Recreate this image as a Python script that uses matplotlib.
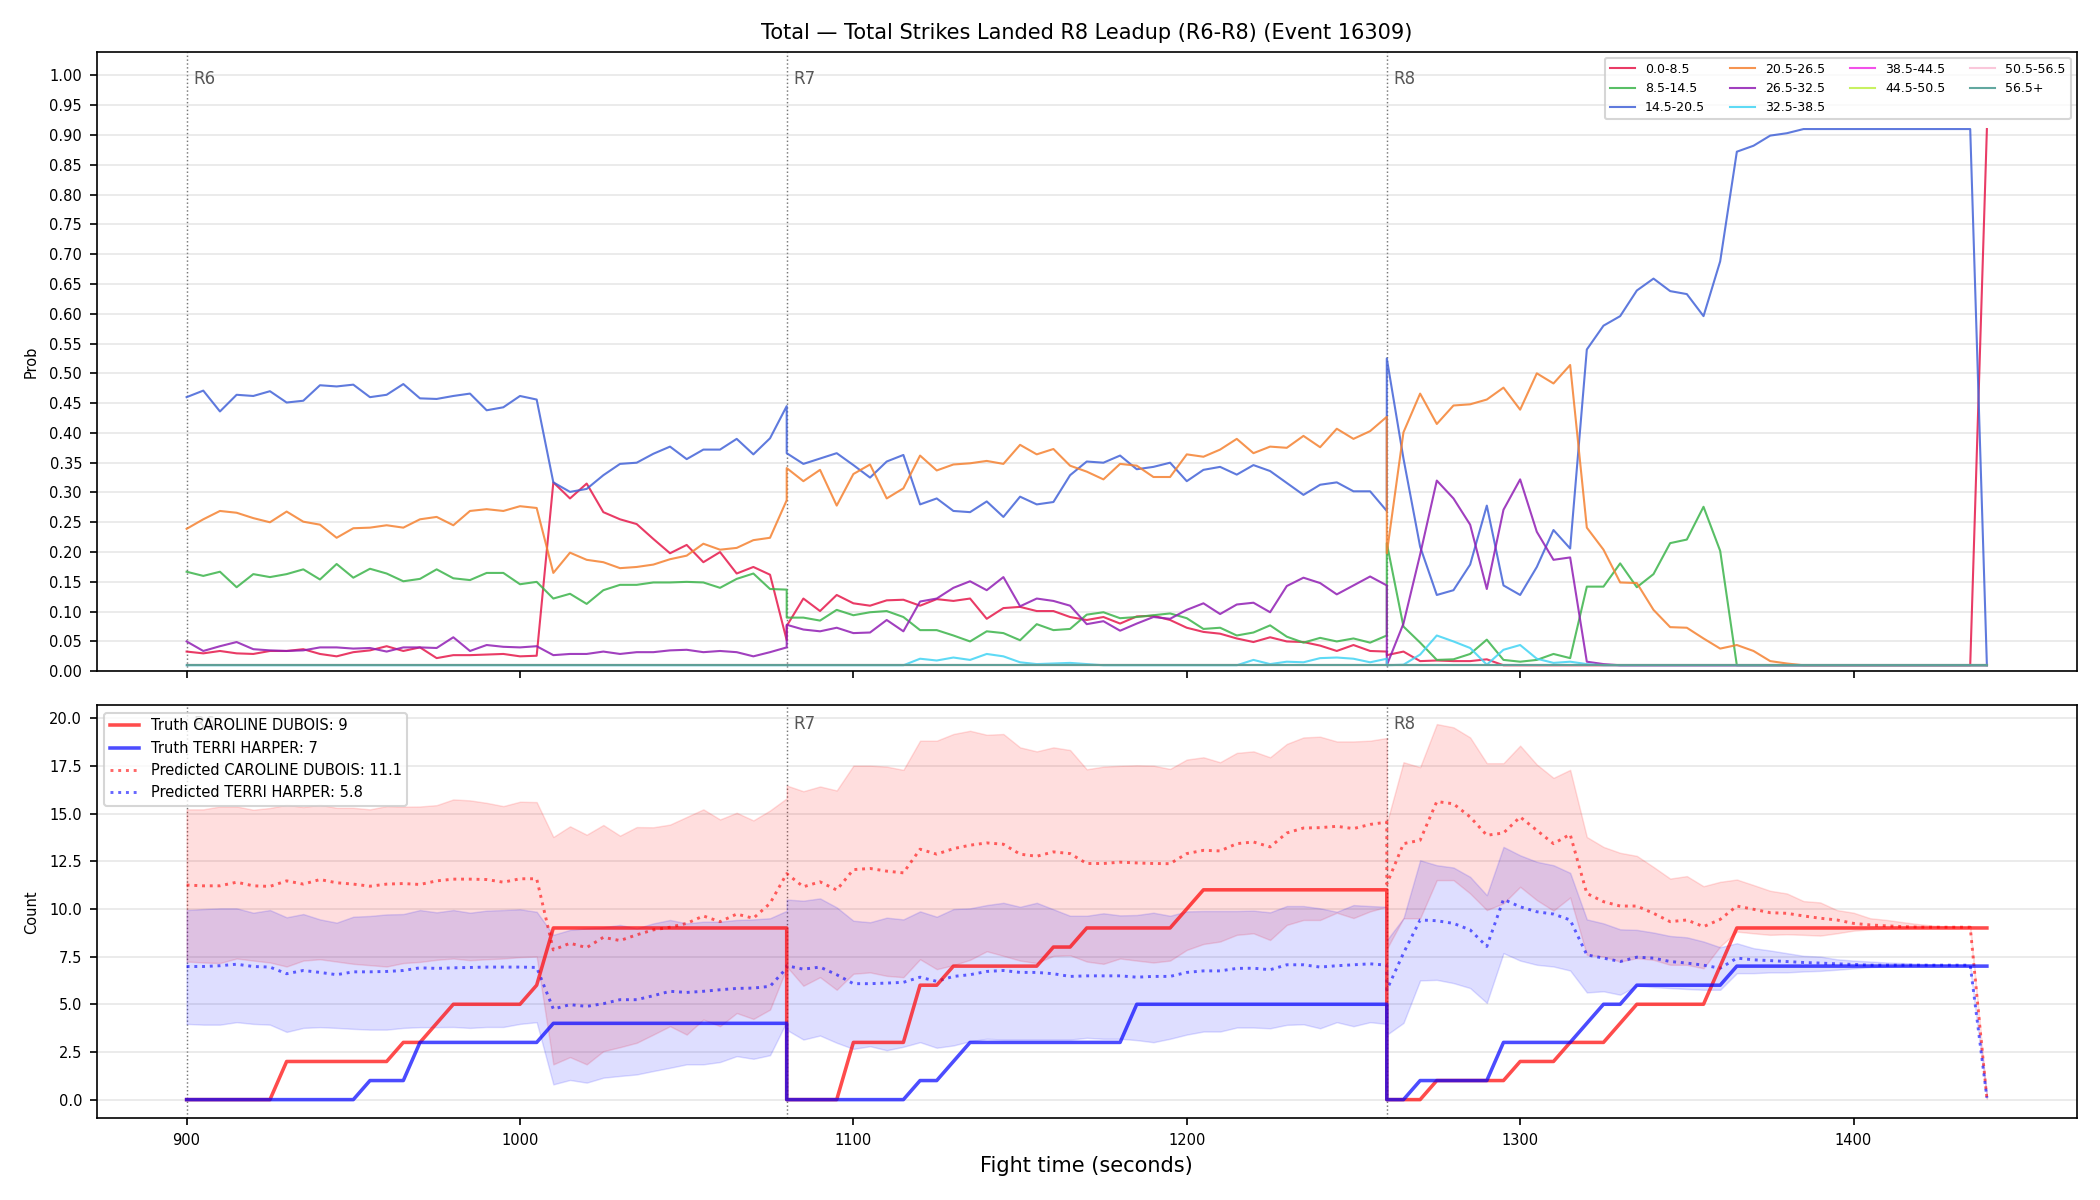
import numpy as np
import matplotlib
matplotlib.use('Agg')
import matplotlib.pyplot as plt
import matplotlib.transforms as mtransforms

# sample times, one round each (the round boundary is sampled twice)
T_R6 = np.arange(900, 1081, 5)
T_R7 = np.arange(1080, 1261, 5)
T_R8 = np.arange(1260, 1441, 5)
TIME = np.concatenate([T_R6, T_R7, T_R8])

ROUND_STARTS = [900, 1080, 1260]
ROUND_NAMES = ['R6', 'R7', 'R8']

# --- top panel: bin probabilities ---
BINS = ['0.0-8.5', '8.5-14.5', '14.5-20.5', '20.5-26.5', '26.5-32.5',
        '32.5-38.5', '38.5-44.5', '44.5-50.5', '50.5-56.5', '56.5+']
BIN_COLORS = ['#e6194b', '#3cb44b', '#4363d8', '#f58231', '#911eb4',
              '#42d4f4', '#f032e6', '#bfef45', '#fabed4', '#469990']

p_0_8 = ([0.033, 0.030, 0.034, 0.030, 0.029, 0.034, 0.034, 0.037, 0.029, 0.025, 0.032, 0.035, 0.042,
          0.034, 0.040, 0.022, 0.027, 0.027, 0.028, 0.029, 0.025, 0.026, 0.317, 0.290, 0.315, 0.267,
          0.255, 0.247, 0.222, 0.198, 0.212, 0.183, 0.200, 0.164, 0.175, 0.162, 0.052]
         + [0.076, 0.122, 0.101, 0.128, 0.114, 0.110, 0.119, 0.120, 0.110, 0.121, 0.118, 0.122, 0.088,
            0.106, 0.108, 0.101, 0.101, 0.091, 0.086, 0.091, 0.080, 0.092, 0.093, 0.086, 0.073, 0.066,
            0.063, 0.055, 0.049, 0.057, 0.050, 0.049, 0.043, 0.034, 0.044, 0.034, 0.033]
         + [0.027, 0.033, 0.017, 0.018, 0.017, 0.017, 0.020] + [0.01] * 29 + [0.91])
p_8_14 = ([0.167, 0.160, 0.167, 0.141, 0.163, 0.158, 0.163, 0.171, 0.154, 0.180, 0.157, 0.172, 0.164,
           0.151, 0.155, 0.171, 0.156, 0.153, 0.165, 0.165, 0.146, 0.150, 0.122, 0.130, 0.113, 0.136,
           0.145, 0.145, 0.149, 0.149, 0.150, 0.149, 0.140, 0.155, 0.164, 0.138, 0.137]
          + [0.090, 0.090, 0.085, 0.103, 0.094, 0.099, 0.101, 0.091, 0.069, 0.069, 0.060, 0.050, 0.067,
             0.064, 0.052, 0.079, 0.069, 0.071, 0.095, 0.099, 0.089, 0.091, 0.094, 0.097, 0.089, 0.071,
             0.073, 0.060, 0.065, 0.077, 0.058, 0.048, 0.056, 0.050, 0.055, 0.048, 0.060]
          + [0.215, 0.075, 0.048, 0.019, 0.020, 0.029, 0.053, 0.019, 0.016, 0.019, 0.029, 0.022, 0.142,
             0.142, 0.181, 0.141, 0.163, 0.215, 0.221, 0.276, 0.202] + [0.01] * 16)
p_14_20 = ([0.460, 0.471, 0.436, 0.464, 0.462, 0.470, 0.451, 0.454, 0.480, 0.478, 0.481, 0.460, 0.464,
            0.482, 0.458, 0.457, 0.462, 0.466, 0.438, 0.443, 0.462, 0.456, 0.317, 0.301, 0.306, 0.329,
            0.348, 0.350, 0.365, 0.377, 0.356, 0.372, 0.372, 0.390, 0.364, 0.391, 0.445]
           + [0.366, 0.348, 0.357, 0.366, 0.346, 0.325, 0.352, 0.363, 0.280, 0.290, 0.269, 0.267, 0.285,
              0.259, 0.293, 0.280, 0.284, 0.329, 0.352, 0.350, 0.362, 0.339, 0.343, 0.350, 0.319, 0.338,
              0.343, 0.330, 0.346, 0.336, 0.316, 0.296, 0.313, 0.317, 0.302, 0.302, 0.269]
           + [0.525, 0.357, 0.209, 0.128, 0.136, 0.179, 0.278, 0.144, 0.128, 0.175, 0.237, 0.206, 0.540,
              0.580, 0.596, 0.639, 0.659, 0.638, 0.633, 0.596, 0.688, 0.872, 0.882, 0.899, 0.903]
           + [0.91] * 11 + [0.01])
p_20_26 = ([0.239, 0.255, 0.269, 0.266, 0.257, 0.250, 0.268, 0.251, 0.246, 0.224, 0.240, 0.241, 0.245,
            0.241, 0.255, 0.259, 0.245, 0.269, 0.272, 0.269, 0.277, 0.274, 0.165, 0.199, 0.187, 0.183,
            0.173, 0.175, 0.179, 0.188, 0.194, 0.214, 0.204, 0.207, 0.220, 0.224, 0.287]
           + [0.341, 0.319, 0.338, 0.278, 0.331, 0.347, 0.290, 0.307, 0.362, 0.337, 0.347, 0.349, 0.353,
              0.348, 0.380, 0.364, 0.373, 0.345, 0.335, 0.322, 0.348, 0.345, 0.326, 0.326, 0.364, 0.360,
              0.372, 0.390, 0.366, 0.377, 0.375, 0.395, 0.376, 0.407, 0.390, 0.403, 0.427]
           + [0.198, 0.401, 0.466, 0.415, 0.446, 0.448, 0.456, 0.476, 0.439, 0.500, 0.483, 0.514, 0.241,
              0.204, 0.149, 0.148, 0.103, 0.074, 0.073, 0.055, 0.038, 0.044, 0.034, 0.017, 0.013]
           + [0.01] * 12)
p_26_32 = ([0.050, 0.034, 0.042, 0.049, 0.037, 0.035, 0.034, 0.035, 0.040, 0.040, 0.038, 0.039, 0.033,
            0.040, 0.040, 0.039, 0.057, 0.034, 0.044, 0.041, 0.040, 0.042, 0.027, 0.029, 0.029, 0.033,
            0.029, 0.032, 0.032, 0.035, 0.036, 0.032, 0.034, 0.032, 0.025, 0.032, 0.040]
           + [0.078, 0.070, 0.067, 0.073, 0.064, 0.065, 0.086, 0.067, 0.117, 0.122, 0.140, 0.151, 0.136,
              0.158, 0.109, 0.122, 0.118, 0.110, 0.079, 0.084, 0.068, 0.080, 0.091, 0.088, 0.103, 0.114,
              0.096, 0.112, 0.115, 0.099, 0.143, 0.157, 0.148, 0.129, 0.144, 0.159, 0.144]
           + [0.010, 0.080, 0.196, 0.320, 0.290, 0.246, 0.138, 0.271, 0.322, 0.234, 0.187, 0.191, 0.016,
              0.012] + [0.01] * 23)
p_32_38 = ([0.01] * 37
           + [0.01] * 8 + [0.021, 0.018, 0.023, 0.019, 0.029, 0.025, 0.015, 0.012, 0.013, 0.014, 0.012]
           + [0.01] * 9 + [0.019, 0.012, 0.016, 0.015, 0.022, 0.023, 0.021, 0.015, 0.021]
           + [0.010, 0.011, 0.028, 0.060, 0.050, 0.039, 0.011, 0.036, 0.044, 0.021, 0.014, 0.016, 0.012]
           + [0.01] * 24)
p_38_44 = [0.01] * 111
p_44_50 = [0.01] * 111
p_50_56 = [0.01] * 111
p_56_up = [0.01] * 111

PROBS = [p_0_8, p_8_14, p_14_20, p_20_26, p_26_32, p_32_38, p_38_44, p_44_50, p_50_56, p_56_up]

# --- bottom panel: counts ---
RED_NAME = 'CAROLINE DUBOIS'
BLUE_NAME = 'TERRI HARPER'
RED_TRUTH_FINAL = 9
BLUE_TRUTH_FINAL = 7
RED_PRED_LABEL = 11.1
BLUE_PRED_LABEL = 5.8

truth_red = ([0, 0, 0, 0, 0, 0, 2, 2, 2, 2, 2, 2, 2, 3, 3, 4, 5, 5, 5, 5, 5, 6] + [9] * 15
             + [0, 0, 0, 0, 3, 3, 3, 3, 6, 6, 7, 7, 7, 7, 7, 7, 8, 8, 9, 9, 9, 9, 9, 9, 10] + [11] * 12
             + [0, 0, 0, 1, 1, 1, 1, 1, 2, 2, 2, 3, 3, 3, 4, 5, 5, 5, 5, 5, 7] + [9] * 16)
truth_blue = ([0] * 11 + [1, 1, 1] + [3] * 8 + [4] * 15
              + [0] * 8 + [1, 1, 2] + [3] * 10 + [5] * 16
              + [0, 0, 1, 1, 1, 1, 1, 3, 3, 3, 3, 3, 4, 5, 5, 6, 6, 6, 6, 6, 6] + [7] * 16)

pred_red = ([11.25, 11.21, 11.21, 11.40, 11.21, 11.18, 11.47, 11.30, 11.54, 11.37, 11.30, 11.19, 11.30,
             11.33, 11.28, 11.47, 11.56, 11.56, 11.54, 11.40, 11.58, 11.58, 7.85, 8.20, 7.97, 8.51,
             8.34, 8.64, 8.90, 9.04, 9.24, 9.63, 9.33, 9.73, 9.51, 10.29, 11.85]
            + [11.85, 11.16, 11.42, 10.99, 12.06, 12.12, 11.98, 11.89, 13.13, 12.87, 13.16, 13.34, 13.46,
               13.39, 12.87, 12.76, 12.99, 12.90, 12.38, 12.38, 12.45, 12.41, 12.38, 12.37, 12.90, 13.07,
               13.04, 13.42, 13.51, 13.25, 13.98, 14.24, 14.26, 14.33, 14.21, 14.43, 14.55]
            + [11.30, 13.42, 13.60, 15.63, 15.51, 14.82, 13.86, 13.98, 14.82, 14.12, 13.42, 13.91, 10.81,
               10.38, 10.15, 10.15, 9.77, 9.33, 9.42, 9.07, 9.45, 10.15, 9.98, 9.80, 9.77, 9.63, 9.51,
               9.42, 9.24, 9.16, 9.11, 9.07, 9.04, 9.04, 9.04, 9.04, 0.05])
red_hi = ([15.22, 15.22, 15.37, 15.37, 15.20, 15.29, 15.46, 15.34, 15.46, 15.30, 15.30, 15.22, 15.39,
           15.36, 15.37, 15.44, 15.74, 15.69, 15.56, 15.39, 15.62, 15.60, 13.77, 14.33, 13.89, 14.40,
           13.84, 14.29, 14.28, 14.42, 14.82, 15.22, 14.69, 15.04, 14.64, 15.16, 15.80]
          + [16.47, 16.17, 16.42, 16.21, 17.51, 17.51, 17.46, 17.29, 18.82, 18.82, 19.17, 19.34, 19.13,
             19.17, 18.47, 18.26, 18.47, 18.33, 17.32, 17.46, 17.50, 17.53, 17.51, 17.34, 17.83, 17.95,
             17.69, 18.18, 18.26, 17.95, 18.65, 18.99, 19.03, 18.78, 18.78, 18.82, 18.96]
          + [14.50, 17.69, 17.43, 19.69, 19.52, 18.99, 17.64, 17.64, 18.56, 17.57, 16.87, 17.29, 13.77,
             13.25, 12.94, 12.78, 12.20, 11.59, 11.72, 11.19, 11.42, 11.54, 11.25, 10.95, 10.81, 10.41,
             10.34, 9.94, 9.80, 9.51, 9.42, 9.30, 9.19, 9.11, 9.07, 9.04, 0.05])
red_lo = ([7.24, 7.19, 7.16, 7.40, 7.29, 7.19, 6.98, 7.29, 7.36, 7.24, 7.12, 7.05, 6.98, 7.16, 7.22,
           7.33, 7.40, 7.31, 7.36, 7.40, 7.47, 7.50, 1.85, 2.23, 1.85, 2.54, 2.75, 2.98, 3.41, 3.85,
           3.41, 4.20, 3.85, 4.54, 4.23, 4.72, 6.90]
          + [6.98, 5.97, 6.42, 5.76, 6.60, 6.67, 6.49, 6.42, 7.36, 6.84, 7.05, 7.33, 7.78, 7.54, 7.29,
             7.16, 7.54, 7.57, 7.24, 7.12, 7.40, 7.29, 7.19, 7.29, 7.85, 8.16, 8.29, 8.64, 8.72, 8.37,
             9.16, 9.42, 9.42, 9.80, 9.52, 9.87, 10.11]
          + [7.90, 9.51, 9.51, 11.51, 11.51, 10.81, 9.94, 10.29, 11.16, 10.46, 9.91, 10.60, 7.59, 7.50,
             7.24, 7.42, 7.33, 7.07, 7.07, 6.89, 8.03, 8.81, 8.72, 8.64, 8.67, 8.64, 8.60, 8.72, 8.86,
             8.93, 8.97, 9.00, 9.02, 9.04, 9.04, 9.04, 0.05])

pred_blue = ([6.98, 6.98, 7.02, 7.10, 6.98, 6.95, 6.60, 6.77, 6.67, 6.55, 6.70, 6.70, 6.72, 6.77, 6.91,
              6.88, 6.91, 6.93, 6.95, 6.95, 6.95, 6.93, 4.75, 4.98, 4.89, 5.03, 5.24, 5.24, 5.45, 5.68,
              5.62, 5.68, 5.76, 5.83, 5.85, 5.94, 6.90]
             + [7.02, 6.84, 6.95, 6.55, 6.08, 6.08, 6.11, 6.15, 6.42, 6.20, 6.46, 6.55, 6.72, 6.77, 6.67,
                6.67, 6.60, 6.46, 6.49, 6.49, 6.49, 6.42, 6.46, 6.46, 6.67, 6.75, 6.75, 6.88, 6.89, 6.81,
                7.07, 7.07, 6.95, 7.02, 7.07, 7.12, 7.05]
             + [5.75, 7.68, 9.42, 9.38, 9.24, 8.90, 8.03, 10.50, 10.11, 9.85, 9.73, 9.42, 7.59, 7.42,
                7.24, 7.47, 7.42, 7.24, 7.16, 7.05, 6.89, 7.42, 7.33, 7.29, 7.24, 7.19, 7.16, 7.12, 7.09,
                7.05, 7.05, 7.05, 7.05, 7.05, 7.05, 7.05, 0.10])
blue_hi = ([9.94, 9.99, 10.03, 10.03, 9.80, 9.94, 9.56, 9.73, 9.45, 9.28, 9.59, 9.63, 9.71, 9.73, 9.94,
            9.82, 9.94, 9.80, 9.91, 9.94, 9.98, 9.85, 8.64, 8.90, 8.98, 9.04, 9.16, 8.98, 9.24, 9.42,
            9.24, 9.33, 9.33, 9.42, 9.45, 9.51, 9.90]
           + [10.49, 10.43, 10.55, 10.08, 9.38, 9.30, 9.54, 9.45, 9.87, 9.59, 9.99, 10.03, 10.20, 10.32,
              10.11, 10.32, 9.98, 9.64, 9.64, 9.77, 9.66, 9.68, 9.80, 9.64, 9.87, 9.89, 9.89, 9.89, 9.91,
              9.82, 10.15, 10.15, 10.03, 9.85, 10.20, 10.15, 10.11]
           + [8.36, 9.51, 12.55, 12.29, 12.17, 11.68, 10.72, 13.25, 12.81, 12.47, 12.29, 11.89, 9.45,
              9.24, 8.93, 8.90, 8.76, 8.58, 8.51, 8.29, 7.99, 8.20, 7.94, 7.82, 7.68, 7.54, 7.50, 7.36,
              7.29, 7.24, 7.19, 7.16, 7.12, 7.09, 7.07, 7.05, 0.10])
blue_lo = ([3.97, 3.93, 3.93, 4.06, 3.97, 3.93, 3.55, 3.76, 3.80, 3.76, 3.71, 3.67, 3.67, 3.76, 3.80,
            3.80, 3.81, 3.76, 3.81, 3.81, 3.97, 4.06, 0.80, 1.03, 0.89, 1.15, 1.24, 1.32, 1.50, 1.67,
            1.85, 1.85, 1.97, 2.28, 2.14, 2.33, 4.09]
           + [3.66, 3.15, 3.36, 2.98, 2.66, 2.80, 2.59, 2.77, 3.01, 2.72, 2.84, 3.06, 3.19, 3.15, 3.15,
              3.15, 3.15, 3.15, 3.24, 3.19, 3.19, 3.12, 3.01, 3.19, 3.41, 3.57, 3.57, 3.78, 3.78, 3.74,
              3.92, 3.95, 3.74, 4.06, 3.85, 4.06, 3.97]
           + [3.40, 4.02, 6.25, 6.28, 6.11, 5.85, 5.07, 7.68, 7.29, 7.07, 6.98, 6.77, 5.62, 5.68, 5.50,
              5.97, 5.90, 5.85, 5.80, 5.76, 5.76, 6.63, 6.63, 6.67, 6.67, 6.72, 6.75, 6.81, 6.88, 6.95,
              6.98, 7.02, 7.03, 7.05, 7.05, 7.05, 0.10])

TITLE = 'Total \u2014 Total Strikes Landed R8 Leadup (R6-R8) (Event 16309)'

plt.rcParams['xtick.labelsize'] = 7
plt.rcParams['ytick.labelsize'] = 7


def mark_rounds(ax):
    # dotted line at every round start with a small label near the top
    trans = mtransforms.blended_transform_factory(ax.transData, ax.transAxes)
    for t, name in zip(ROUND_STARTS, ROUND_NAMES):
        ax.axvline(t, color='#555555', linestyle=':', linewidth=0.7, alpha=0.8, zorder=1)
        ax.text(t + 2, 0.955, name, transform=trans, color='#555555', fontsize=8,
                ha='left', va='center', zorder=1)


fig, (ax1, ax2) = plt.subplots(2, 1, figsize=(14, 8), dpi=150, sharex=True,
                               gridspec_kw={'height_ratios': [3, 2]})
fig.subplots_adjust(left=0.046, right=0.989, top=0.957, bottom=0.068, hspace=0.066)

# top panel
for label, color, vals in zip(BINS, BIN_COLORS, PROBS):
    ax1.plot(TIME, vals, color=color, linewidth=1.0, alpha=0.85, label=label, zorder=3)
mark_rounds(ax1)
ax1.set_ylim(0, 1.04)
ax1.set_yticks(np.arange(0, 1.001, 0.05))
ax1.yaxis.set_major_formatter(plt.FormatStrFormatter('%.2f'))
ax1.set_ylabel('Prob', fontsize=7, labelpad=5)
ax1.grid(axis='y', alpha=0.3)
ax1.set_title(TITLE, fontsize=10)
ax1.legend(loc='upper right', ncol=4, fontsize=6)

# bottom panel
ax2.fill_between(TIME, red_lo, red_hi, facecolor='#ff0000', edgecolor='#ff0000', alpha=0.13,
                 linewidth=0.7, zorder=2)
ax2.fill_between(TIME, blue_lo, blue_hi, facecolor='#0000ff', edgecolor='#0000ff', alpha=0.13,
                 linewidth=0.7, zorder=2)
ax2.plot(TIME, truth_red, color='#ff0000', linewidth=1.7, alpha=0.7,
         label=f'Truth {RED_NAME}: {RED_TRUTH_FINAL}', zorder=4)
ax2.plot(TIME, truth_blue, color='#0000ff', linewidth=1.7, alpha=0.7,
         label=f'Truth {BLUE_NAME}: {BLUE_TRUTH_FINAL}', zorder=4)
ax2.plot(TIME, pred_red, color='#ff0000', linewidth=1.4, linestyle=':', alpha=0.6,
         label=f'Predicted {RED_NAME}: {RED_PRED_LABEL}', zorder=3)
ax2.plot(TIME, pred_blue, color='#0000ff', linewidth=1.4, linestyle=':', alpha=0.6,
         label=f'Predicted {BLUE_NAME}: {BLUE_PRED_LABEL}', zorder=3)
mark_rounds(ax2)
ax2.set_ylabel('Count', fontsize=7, labelpad=5)
ax2.set_xlabel('Fight time (seconds)', fontsize=10)
ax2.grid(axis='y', alpha=0.3)
ax2.legend(loc='upper left', fontsize=7)

fig.savefig('out.png', dpi=150)
